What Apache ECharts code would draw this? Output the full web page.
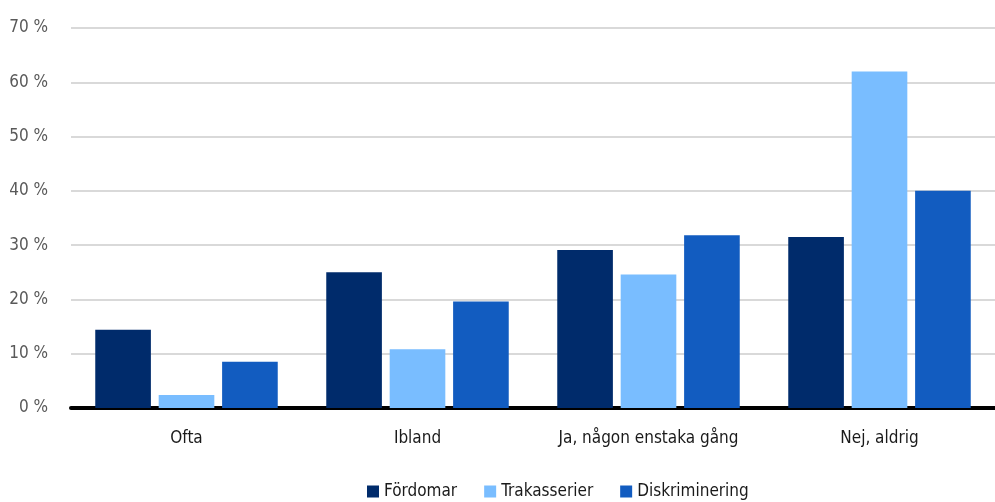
<!DOCTYPE html>
<html>
<head>
<meta charset="utf-8">
<script src="https://cdn.jsdelivr.net/npm/echarts@6/dist/echarts.min.js"></script>
<style>
  html, body { margin: 0; padding: 0; background: #fff; }
  #chart { width: 995px; height: 502px; }
</style>
</head>
<body>
<div id="chart"></div>
<script>
const categories = ['Ofta', 'Ibland', 'Ja, någon enstaka gång', 'Nej, aldrig'];
const fordomar = [14.4, 25.0, 29.1, 31.5];
const trakasserier = [2.4, 10.8, 24.6, 62.0];
const diskriminering = [8.5, 19.6, 31.8, 40.0];

const FONT = '"DejaVu Sans Condensed", "Liberation Sans Narrow", sans-serif';

const chart = echarts.init(document.getElementById('chart'));
chart.setOption({
    animation: false,
    textStyle: { fontFamily: FONT },
    grid: { left: 71, right: 0, top: 28, bottom: 94 },
    legend: {
        bottom: 2,
        left: 367,
        padding: 0,
        itemWidth: 12,
        itemHeight: 12,
        itemGap: 27,
        icon: 'rect',
        textStyle: { fontFamily: FONT, fontSize: 17, color: '#1a1a1a' },
        data: ['Fördomar', 'Trakasserier', 'Diskriminering']
    },
    xAxis: {
        type: 'category',
        data: categories,
        axisLine: { lineStyle: { color: '#000', width: 4 } },
        axisTick: { show: false },
        axisLabel: { interval: 0, fontFamily: FONT, fontSize: 17, color: '#1a1a1a', margin: 22 }
    },
    yAxis: {
        type: 'value',
        min: 0,
        max: 70,
        interval: 10,
        axisLine: { show: false },
        axisTick: { show: false },
        axisLabel: {
            fontFamily: FONT, fontSize: 17, color: '#595959', margin: 23,
            formatter: v => v + ' %'
        },
        splitLine: { lineStyle: { color: '#d9d9d9', width: 2 } }
    },
    series: [
        { name: 'Fördomar', type: 'bar', data: fordomar, barGap: '14%', barCategoryGap: '21%',
          itemStyle: { color: '#002b6b' } },
        { name: 'Trakasserier', type: 'bar', data: trakasserier,
          itemStyle: { color: '#79bdff' } },
        { name: 'Diskriminering', type: 'bar', data: diskriminering,
          itemStyle: { color: '#125cc0' } }
    ]
});
</script>
</body>
</html>
